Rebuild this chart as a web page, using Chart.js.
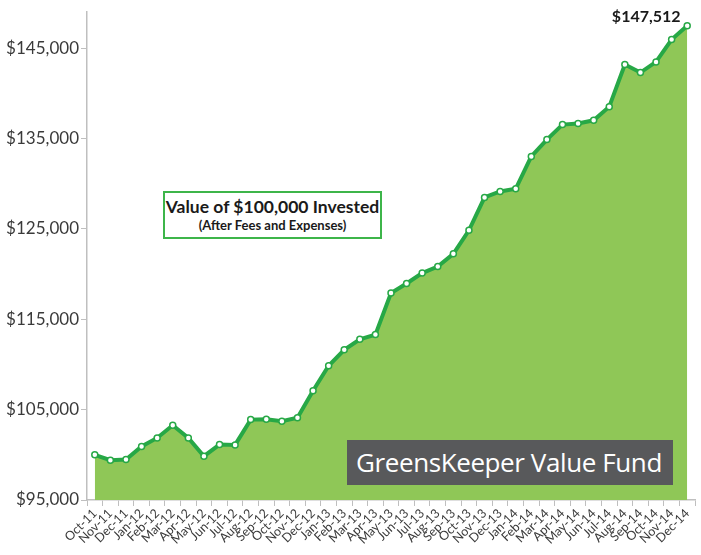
<!DOCTYPE html>
<html>
<head>
<meta charset="utf-8">
<script src="https://cdn.jsdelivr.net/npm/chart.js@4.4.0/dist/chart.umd.min.js"></script>
<style>
  body { margin: 0; background: #fff; }
  #wrap { position: relative; width: 701px; height: 555px; }
  #titleBox {
    position: absolute; left: 163px; top: 191px; width: 215px; height: 44px;
    border: 2px solid #3db54a; background: #fff; text-align: center;
    font-family: Lato, sans-serif; font-weight: bold; color: #1a1a1a;
  }
  #titleBox .l1 { font-size: 17.5px; margin-top: 4px; line-height: 20px; }
  #titleBox .l2 { font-size: 13px; line-height: 17px; }
  #logo {
    position: absolute; left: 347px; top: 440px; width: 326px; height: 45px;
    background: #58595b; color: #fff; font-family: "Open Sans", sans-serif;
    font-size: 26px; line-height: 45px; padding-left: 9px; box-sizing: border-box;
    white-space: nowrap; letter-spacing: -0.4px;
  }
</style>
</head>
<body>
<div id="wrap">
  <canvas id="chart" width="701" height="555"></canvas>
  <div id="titleBox">
    <div class="l1">Value of $100,000 Invested</div>
    <div class="l2">(After Fees and Expenses)</div>
  </div>
  <div id="logo">GreensKeeper Value Fund</div>
</div>
<script>
// months Oct-11 .. Dec-14
const months = ['Oct-11','Nov-11','Dec-11',
  'Jan-12','Feb-12','Mar-12','Apr-12','May-12','Jun-12','Jul-12','Aug-12','Sep-12','Oct-12','Nov-12','Dec-12',
  'Jan-13','Feb-13','Mar-13','Apr-13','May-13','Jun-13','Jul-13','Aug-13','Sep-13','Oct-13','Nov-13','Dec-13',
  'Jan-14','Feb-14','Mar-14','Apr-14','May-14','Jun-14','Jul-14','Aug-14','Sep-14','Oct-14','Nov-14','Dec-14'];

const values = [100000, 99410, 99490,
  100920, 101870, 103270, 101870, 99850, 101140, 101100, 103900, 103940, 103710, 104100, 107100,
  109860, 111620, 112790, 113310, 117910, 118970, 120120, 120850, 122250, 124860, 128500, 129160,
  129450, 133030, 134900, 136560, 136670, 137030, 138540, 143210, 142320, 143500, 145970, 147512];

const yTicks = [95000, 105000, 115000, 125000, 135000, 145000];

const axisGrey = '#bfbfbf';
const textGrey = '#3a3a3a';

// value label over the last point
const lastLabel = {
  id: 'lastLabel',
  afterDatasetsDraw(chart) {
    const meta = chart.getDatasetMeta(0);
    const pt = meta.data[meta.data.length - 1];
    const ctx = chart.ctx;
    ctx.save();
    ctx.font = 'bold 16px Lato';
    ctx.fillStyle = '#1a1a1a';
    ctx.textAlign = 'center';
    ctx.textBaseline = 'middle';
    ctx.fillText('$' + values[values.length - 1].toLocaleString('en-US'), pt.x - 41, pt.y - 9);
    ctx.restore();
  }
};

new Chart(document.getElementById('chart'), {
  type: 'line',
  data: {
    labels: months,
    datasets: [{
      data: values,
      borderColor: '#27a846',
      borderWidth: 4,
      backgroundColor: '#8fc757',
      fill: 'start',
      tension: 0,
      pointRadius: 3,
      pointBorderWidth: 1.5,
      pointBackgroundColor: '#fff',
      pointBorderColor: '#27a846'
    }]
  },
  options: {
    responsive: false,
    animation: false,
    layout: { padding: { top: 10, right: 6, left: 0, bottom: 0 } },
    plugins: { legend: { display: false }, tooltip: { enabled: false } },
    scales: {
      x: {
        offset: true,
        grid: { offset: true, drawOnChartArea: false, tickLength: 6, color: axisGrey },
        border: { color: axisGrey, width: 1.5 },
        ticks: {
          autoSkip: false, maxRotation: 45, minRotation: 45, padding: 0,
          color: textGrey, font: { family: 'Lato', size: 12.5 }
        },
        afterFit(s) { s.height = 55; }
      },
      y: {
        min: 95000,
        max: 149000,
        grid: { drawOnChartArea: false, tickLength: 6, color: axisGrey },
        border: { color: axisGrey, width: 1.5 },
        afterBuildTicks(s) { s.ticks = yTicks.map(v => ({ value: v })); },
        ticks: {
          padding: 2, color: textGrey, font: { family: 'Lato', size: 17 },
          callback: v => '$' + v.toLocaleString('en-US')
        },
        afterFit(s) { s.width = 87; }
      }
    }
  },
  plugins: [lastLabel]
});
</script>
</body>
</html>
